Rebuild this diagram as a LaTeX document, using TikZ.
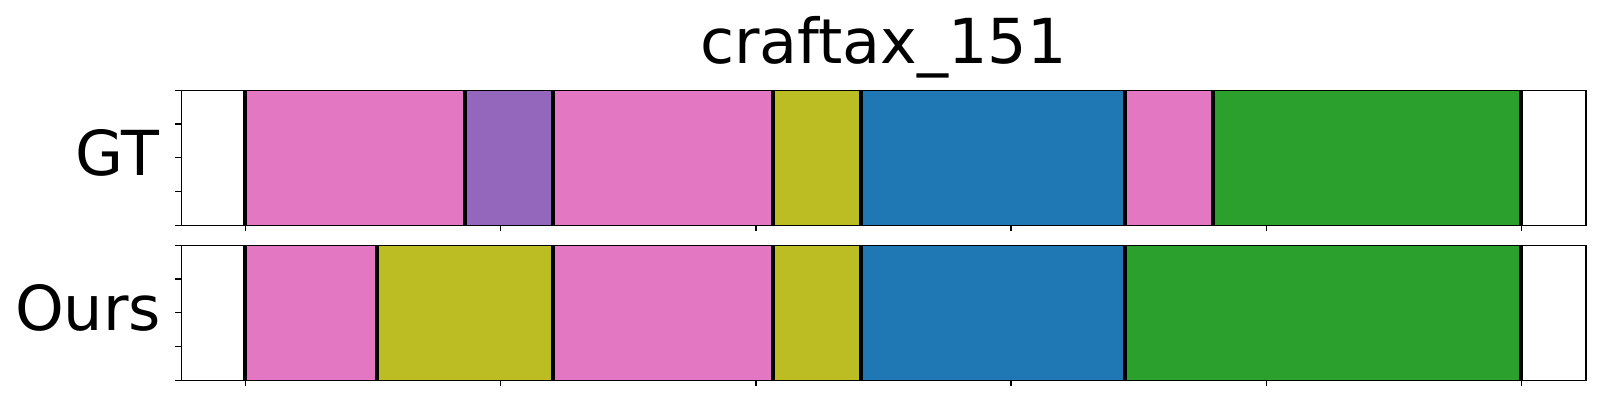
\documentclass[tikz,border=0pt]{standalone}
\usepackage{fontspec}
\setmainfont{DejaVu Sans}
\definecolor{tabpink}{HTML}{E377C2}
\definecolor{tabpurple}{HTML}{9467BD}
\definecolor{tabolive}{HTML}{BCBD22}
\definecolor{tabblue}{HTML}{1F77B4}
\definecolor{tabgreen}{HTML}{2CA02C}
\tikzset{
  axframe/.style = {draw = black, line width = 1.6pt},
  bound/.style = {draw = black, line width = 4.2pt},
  tickmark/.style = {draw = black, line width = 1.2pt},
  bigtext/.style = {inner sep = 0pt, outer sep = 0pt, font = \fontsize{62}{62}\selectfont}
}
\begin{document}
\begin{tikzpicture}[x = 1pt, y = -1pt]
\useasboundingbox (0,0) rectangle (1600,400);
% GT row
\fill[color = tabpink] (245.3,90.3) rectangle (464.7,225.3);
\fill[color = tabpurple] (464.7,90.3) rectangle (552.7,225.3);
\fill[color = tabpink] (552.7,90.3) rectangle (772.7,225.3);
\fill[color = tabolive] (772.7,90.3) rectangle (860.7,225.3);
\fill[color = tabblue] (860.7,90.3) rectangle (1125,225.3);
\fill[color = tabpink] (1125,90.3) rectangle (1213,225.3);
\fill[color = tabgreen] (1213,90.3) rectangle (1521.2,225.3);
\foreach \bx in {245.3,464.7,552.7,772.7,860.7,1125,1213,1521.2}
  \draw[bound] (\bx,90.3) -- (\bx,225.3);
% Ours row
\fill[color = tabpink] (245.3,245.3) rectangle (376.7,380.3);
\fill[color = tabolive] (376.7,245.3) rectangle (552.7,380.3);
\fill[color = tabpink] (552.7,245.3) rectangle (772.7,380.3);
\fill[color = tabolive] (772.7,245.3) rectangle (860.7,380.3);
\fill[color = tabblue] (860.7,245.3) rectangle (1125,380.3);
\fill[color = tabgreen] (1125,245.3) rectangle (1521.2,380.3);
\foreach \bx in {245.3,376.7,552.7,772.7,860.7,1125,1521.2}
  \draw[bound] (\bx,245.3) -- (\bx,380.3);
% frames and ticks
\draw[axframe] (181.3,90.3) rectangle (1585.7,225.3);
\draw[axframe] (181.3,245.3) rectangle (1585.7,380.3);
\foreach \k in {0,...,5} {
  \draw[tickmark] (245.7+255.1*\k,225.3) -- ++(0,6);
  \draw[tickmark] (245.7+255.1*\k,380.3) -- ++(0,6);
}
\foreach \k in {0,...,4} {
  \draw[tickmark] (181.3,90.3+33.75*\k) -- ++(-6,0);
  \draw[tickmark] (181.3,245.3+33.75*\k) -- ++(-6,0);
}
% labels
\node[bigtext, anchor = base] (title) at (883.5,63.3) {craftax\_151};
\node[bigtext, anchor = base east] (gt) at (159.5,175) {GT};
\node[bigtext, anchor = base east] (ours) at (161,330) {Ours};
\end{tikzpicture}
\end{document}
